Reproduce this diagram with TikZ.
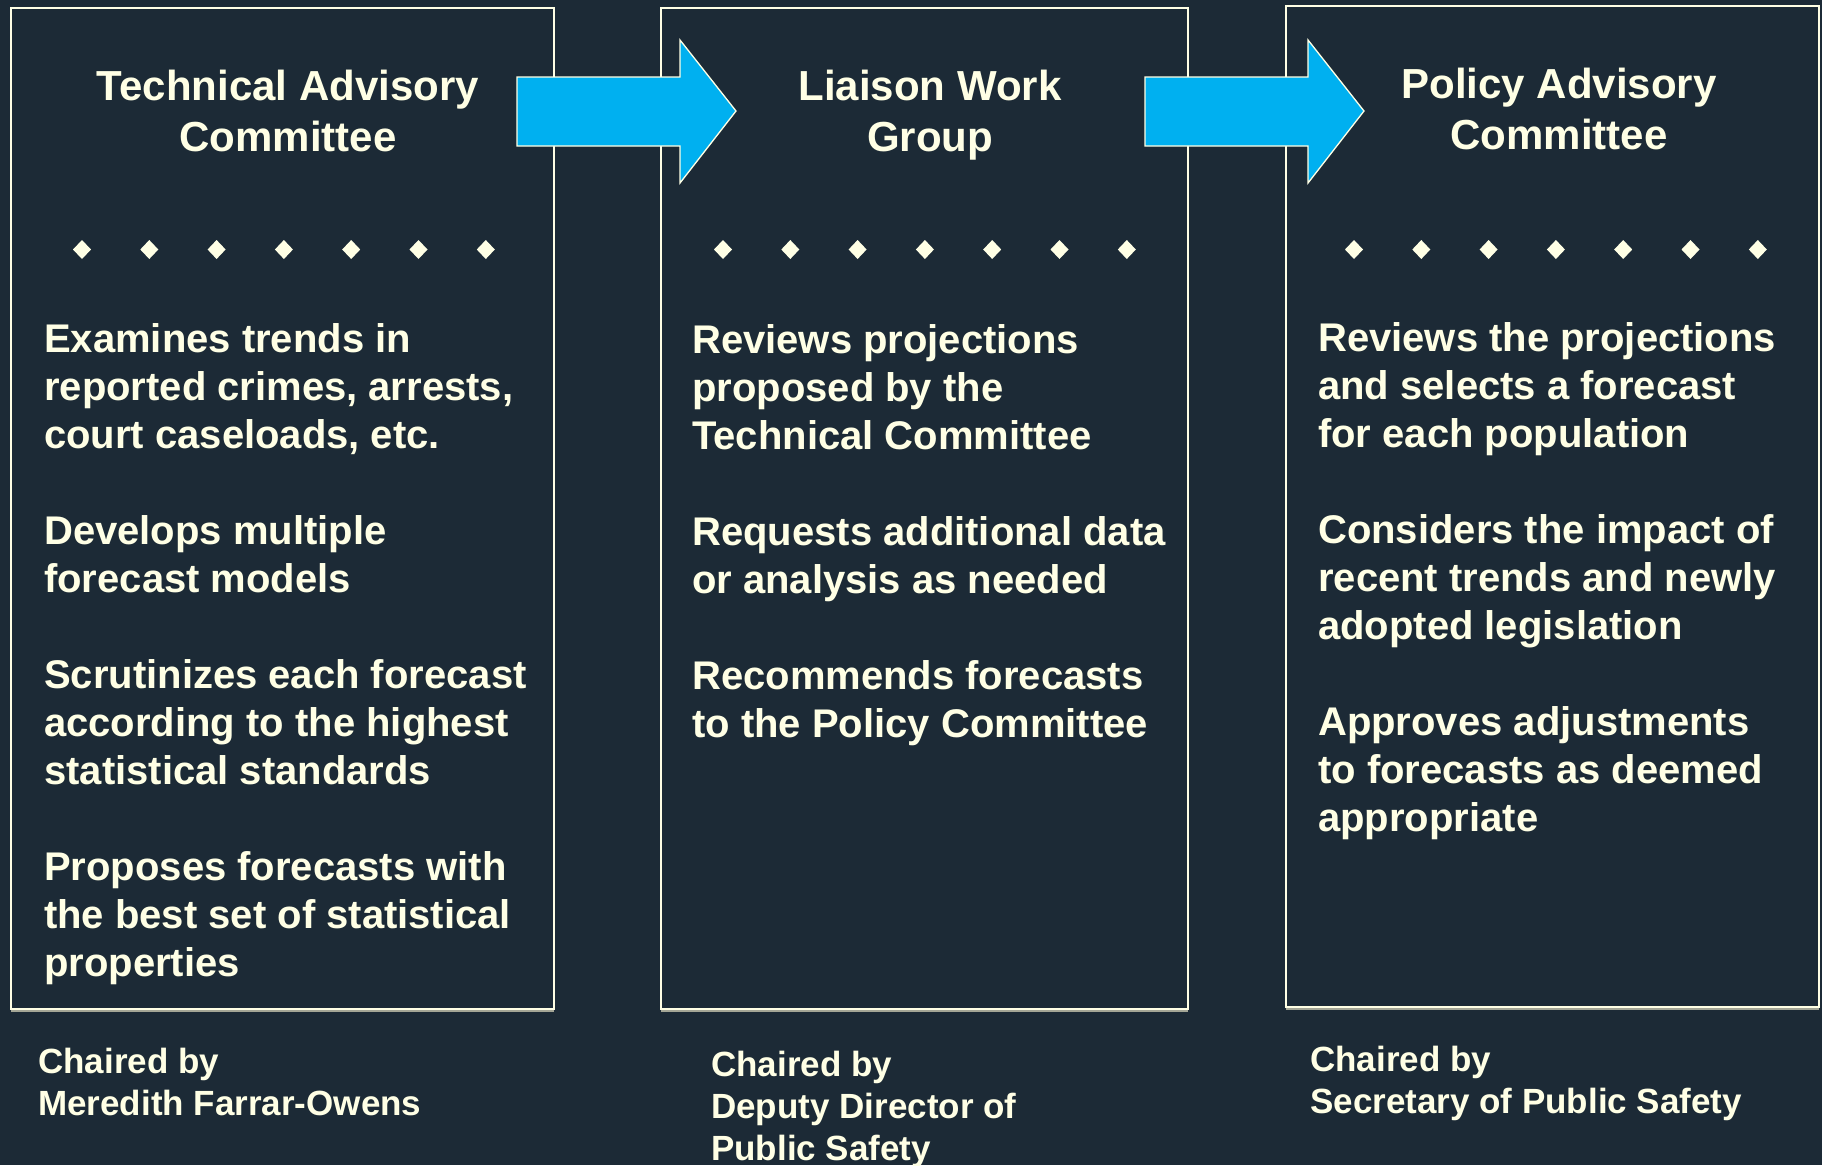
\documentclass[tikz,border=0pt]{standalone}
\usepackage{fontspec}
\setmainfont{Liberation Sans}
\definecolor{bg}{HTML}{1C2A36}
\definecolor{cream}{HTML}{FFFFE5}
\definecolor{shade}{HTML}{A4A696}
\definecolor{arrowblue}{HTML}{00B0F0}
\begin{document}
\begin{tikzpicture}[x=1pt,y=-1pt,
  panel/.style={draw=cream, line width=2pt, anchor=north west, inner sep=0pt, outer sep=0pt},
  titletext/.style={text=cream, font=\bfseries\fontsize{42}{51}\selectfont, align=center, anchor=base, inner sep=0pt},
  bodytext/.style={text=cream, font=\bfseries\fontsize{40}{48}\selectfont, align=left, anchor=base west, inner sep=0pt},
  chairtext/.style={text=cream, font=\bfseries\fontsize{35}{42}\selectfont, align=left, anchor=base west, inner sep=0pt},
  dotmark/.style={fill=cream},
  blockarrow/.style={fill=arrowblue, draw=cream, line width=1.3pt, line join=miter},
  shadeline/.style={draw=shade, line width=1.3pt}
]
\useasboundingbox (0,0) rectangle (1822,1165);
\fill[bg] (0,0) rectangle (1822,1165);

% panels
\node[panel, minimum width=543pt, minimum height=1001pt] (p1) at (11,8) {};
\node[panel, minimum width=527pt, minimum height=1001pt] (p2) at (661,8) {};
\node[panel, minimum width=533pt, minimum height=1001pt] (p3) at (1286,6) {};
\draw[shadeline] ([yshift=-2pt]p1.south west) -- ([yshift=-2pt]p1.south east);
\draw[shadeline] ([yshift=-2pt]p2.south west) -- ([yshift=-2pt]p2.south east);
\draw[shadeline] ([yshift=-2pt]p3.south west) -- ([yshift=-2pt]p3.south east);

% titles (anchored at the baseline of their last line)
\node[titletext] (t1) at (288,151) {Technical Advisory\\Committee};
\node[titletext] (t2) at (930,151) {Liaison Work\\Group};
\node[titletext] (t3) at (1559,149) {Policy Advisory\\Committee};

% diamonds
\foreach \i in {0,...,6} {
  \coordinate (da\i) at ({82+67.3*\i},249.5);
  \coordinate (db\i) at ({723+67.3*\i},249.5);
  \coordinate (dc\i) at ({1354+67.3*\i},249.5);
  \foreach \d in {da\i,db\i,dc\i}
    \fill[dotmark] (\d) ++(-9,0) -- ++(9,-9.5) -- ++(9,9.5) -- ++(-9,9.5) -- cycle;
}

% block arrows
\coordinate (a1s) at (517,111);
\coordinate (a2s) at (1145,111);
\draw[blockarrow] (517,77) -- (680,77) -- (680,40) -- (736,111) -- (680,183) -- (680,146) -- (517,146) -- cycle;
\draw[blockarrow] (1145,77) -- (1308,77) -- (1308,40) -- (1364,111) -- (1308,183) -- (1308,146) -- (1145,146) -- cycle;

% body texts (anchored at the baseline of their last line)
\node[bodytext] (b1) at (44,976) {Examines trends in\\reported crimes, arrests,\\court caseloads, etc.\\[48pt]Develops multiple\\forecast models\\[48pt]Scrutinizes each forecast\\according to the highest\\statistical standards\\[48pt]Proposes forecasts with\\the best set of statistical\\properties};
\node[bodytext] (b2) at (692,737) {Reviews projections\\proposed by the\\Technical Committee\\[48pt]Requests additional data\\or analysis as needed\\[48pt]Recommends forecasts\\to the Policy Committee};
\node[bodytext] (b3) at (1318,831) {Reviews the projections\\and selects a forecast\\for each population\\[48pt]Considers the impact of\\recent trends and newly\\adopted legislation\\[48pt]Approves adjustments\\to forecasts as deemed\\appropriate};

% chairs
\node[chairtext] (c1) at (38,1115) {Chaired by\\Meredith Farrar-Owens};
\node[chairtext] (c2) at (711,1160) {Chaired by\\Deputy Director of\\Public Safety};
\node[chairtext] (c3) at (1310,1113) {Chaired by\\Secretary of Public Safety};
\end{tikzpicture}
\end{document}
